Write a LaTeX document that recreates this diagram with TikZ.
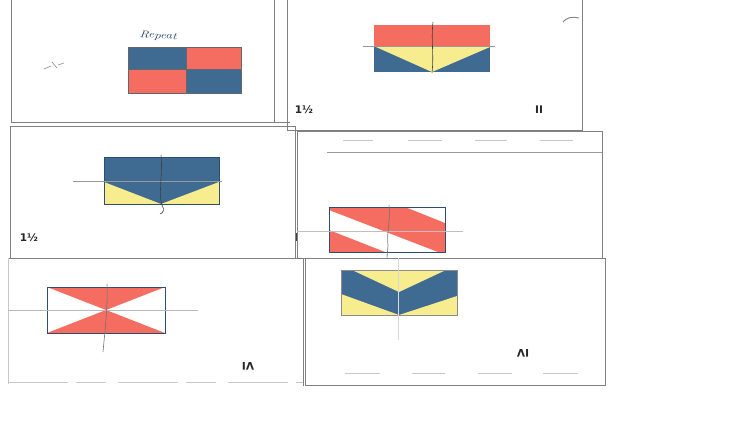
\documentclass[tikz,border=0pt]{standalone}
\usepackage{fontspec}
\newfontfamily\lblfont{DejaVu Sans}
\definecolor{fblue}{HTML}{3F6B92}
\definecolor{fred}{HTML}{F46D60}
\definecolor{fyellow}{HTML}{F7EC8E}
\definecolor{fedge}{HTML}{2E4E6E}
\tikzset{
  card/.style={draw=black!50, line width=0.9pt},
  faint/.style={draw=black!22, line width=0.7pt},
  flagedge/.style={draw=fedge, line width=0.7pt},
  pencil/.style={draw=black!75, line width=0.6pt},
  guide/.style={draw=black!40, line width=0.5pt},
  lab/.style={font=\lblfont\bfseries\fontsize{10.5}{12}\selectfont, text=black!85, inner sep=0pt},
}
\begin{document}
\begin{tikzpicture}[x=1pt,y=-1pt]
\useasboundingbox (0,0) rectangle (738,421);
\fill[white] (0,0) rectangle (738,421);

% ---------- cards ----------
\draw[card] (11,0) -- (11,122) -- (290,122);
\draw[card] (274,0) -- (274,122);
\draw[card] (287,0) -- (287,130) -- (582,130) -- (582,0);
\draw[card] (579,18) .. controls (572,16) and (566,18) .. (563,22);
\draw[card] (10,126) rectangle (295,258);
\draw[card] (297,131) rectangle (602,258);
\draw[card] (8,258) -- (303,258) -- (303,386);
\draw[faint] (8,258) -- (8,384);
\draw[card] (305,258) -- (305,385) -- (605,385) -- (605,258) -- cycle;
\draw[faint, dash pattern=on 60pt off 8pt on 30pt off 12pt] (8,382) -- (303,382);

% card 4 header lines
\draw[guide] (327,152) -- (602,152);
\foreach \a/\b in {343/373,408/442,475/507,540/573}{\draw[faint] (\a,140) -- (\b,140);}
% card 6 footer dashes
\foreach \a/\b in {345/380,412/445,478/512,543/578}{\draw[faint] (\a,373) -- (\b,373);}
% tick mark
\draw[pencil, line width=0.8pt] (296,233) -- (296,241);

% ---------- flag 1 (Repeat) ----------
\fill[fblue] (128,47) rectangle (186,69);
\fill[fred]  (186,47) rectangle (241,69);
\fill[fred]  (128,69) rectangle (186,93);
\fill[fblue] (186,69) rectangle (241,93);
\draw[flagedge, draw=black!60] (128,47) rectangle (241,93) (186,47) -- (186,93) (128,69) -- (241,69);
\node[font=\itshape\fontsize{10}{11}\selectfont, text=fedge, rotate=-4, xscale=1.3] (rep) at (158,36) {Repeat};
\draw[pencil, draw=black!45] (44,69) -- (51,66) (52,62) -- (57,68) (58,65) -- (64,63);

% ---------- flag 2 ----------
\fill[fred] (374,25) rectangle (490,47);
\fill[fblue] (374,47) rectangle (490,72);
\fill[fyellow] (376,47) -- (490,47) -- (432,72) -- cycle;
\draw[guide] (363,46) -- (495,46);
\draw[pencil] (433,22) .. controls (431,40) and (434,55) .. (432,73);
\node[lab] (l2a) at (304,110) {1½};
\node[lab] (l2b) at (539,110) {II};

% ---------- flag 3 ----------
\fill[fblue] (104,157) rectangle (219,204);
\fill[fyellow] (104,182) -- (104,204) -- (161,204) -- cycle;
\fill[fyellow] (219,182) -- (219,204) -- (161,204) -- cycle;
\draw[flagedge] (104,157) rectangle (219,204);
\draw[guide] (73,181) -- (222,181);
\draw[pencil] (161,155) .. controls (163,175) and (158,195) .. (162,205) .. controls (165,210) and (163,213) .. (160,214);
\node[lab] (l3) at (29,238) {1½};

% ---------- flag 4 ----------
\fill[fred] (329,207) -- (405,207) -- (445,223) -- (445,252) -- (438,252) -- (329,210) -- cycle;
\fill[fred] (329,230) -- (385,252) -- (329,252) -- cycle;
\draw[flagedge] (329,207) rectangle (445,252);
\draw[guide, draw=black!25] (297,231) -- (463,231);
\draw[pencil, draw=black!55] (389,205) .. controls (391,220) and (386,235) .. (388,245) -- (387,258);

% ---------- flag 5 ----------
\fill[fred] (47,287) -- (165,287) -- (106,310) -- cycle;
\fill[fred] (47,333) -- (165,333) -- (106,310) -- cycle;
\draw[flagedge] (47,287) rectangle (165,333);
\draw[guide, draw=black!28] (8,310) -- (198,310);
\draw[pencil, draw=black!55] (107,284) .. controls (108,305) and (105,330) .. (103,352);
\node[lab, rotate=180] (l5) at (248,366) {VI};

% ---------- flag 6 ----------
\fill[fblue] (341,270) rectangle (457,315);
\fill[fyellow] (352,270) -- (446,270) -- (399,292) -- cycle;
\fill[fyellow] (341,294) -- (341,315) -- (399,315) -- cycle;
\fill[fyellow] (457,296) -- (457,315) -- (399,315) -- cycle;
\draw[flagedge, draw=black!45] (341,270) rectangle (457,315);
\draw[guide, draw=black!15] (398,258) -- (398,340);
\node[lab, rotate=180] (l6) at (523,353) {IV};
\end{tikzpicture}
\end{document}
